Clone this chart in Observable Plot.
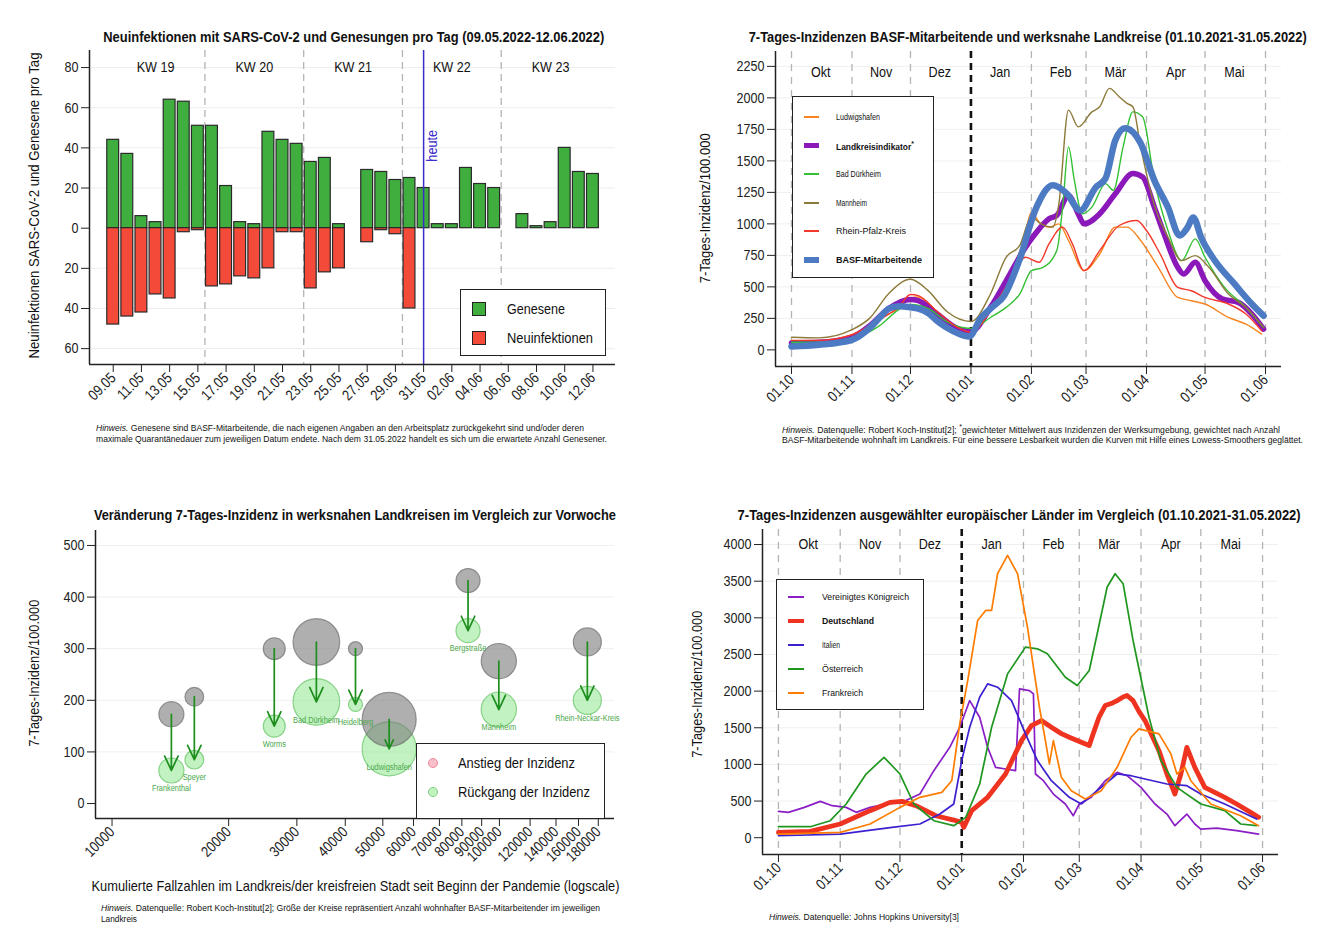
<!DOCTYPE html>
<html><head><meta charset="utf-8">
<script src="https://cdn.jsdelivr.net/npm/d3@7"></script>
<script src="https://cdn.jsdelivr.net/npm/@observablehq/plot@0.6"></script>
<style>
html,body{margin:0;padding:0;background:#fff;}
#root{position:relative;width:1330px;height:934px;overflow:hidden;background:#fff;}
#root svg{position:absolute;overflow:visible;}
.t{position:absolute;white-space:nowrap;line-height:1;color:#111;}
.box{position:absolute;border:1.5px solid #222;background:#fff;box-sizing:border-box;}
.sw{position:absolute;}
</style></head><body><div id="root"></div>
<script>
const FONT = '"Liberation Sans Narrow","Arial Narrow","Liberation Sans",Arial,sans-serif';
const root = document.getElementById("root");

// ================= DATA =================
// Panel 1: Neuinfektionen / Genesene pro Tag
const days = ["09.05","10.05","11.05","12.05","13.05","14.05","15.05","16.05","17.05","18.05","19.05","20.05","21.05","22.05","23.05","24.05","25.05","26.05","27.05","28.05","29.05","30.05","31.05","01.06","02.06","03.06","04.06","05.06","06.06","07.06","08.06","09.06","10.06","11.06","12.06"];
const genesene = [44,37,6,3,64,63,51,51,21,3,2,48,44,42,33,35,2,0,29,28,24,25,20,2,2,30,22,20,null,7,1,3,40,28,27];
const neuinfektionen = [48,44,42,33,35,2,1,29,28,24,25,20,2,2,30,22,20,null,7,1,3,40,null,null,null,null,null,null,null,null,null,null,null,null,null];
const weekLabels = ["KW 19","KW 20","KW 21","KW 22","KW 23"];
const todayDay = "31.05";
const p1YTicks = [-60,-40,-20,0,20,40,60,80];

// Panel 2: 7-Tages-Inzidenzen BASF / Landkreise
const monthStarts = ["2021-10-01","2021-11-01","2021-12-01","2022-01-01","2022-02-01","2022-03-01","2022-04-01","2022-05-01","2022-06-01"];
const monthNames = ["Okt","Nov","Dez","Jan","Feb","Mär","Apr","Mai"];
const yearStart = "2022-01-01";
const ludwigshafen = [["2021-10-01",70],["2021-10-15",70],["2021-11-01",120],["2021-11-15",250],["2021-11-25",330],["2021-12-01",410],["2021-12-05",420],["2021-12-15",300],["2021-12-25",180],["2022-01-01",140],["2022-01-11",310],["2022-01-19",549],["2022-01-28",868],["2022-02-01",1093],["2022-02-05",1013],["2022-02-10",974],["2022-02-15",1000],["2022-02-20",868],["2022-02-28",629],["2022-03-08",761],["2022-03-16",974],["2022-03-22",974],["2022-03-29",868],["2022-04-07",655],["2022-04-17",416],["2022-04-24",390],["2022-05-01",364],["2022-05-13",257],["2022-05-22",204],["2022-05-30",125]];
const landkreisindikator = [["2021-10-01",55],["2021-10-15",60],["2021-11-01",100],["2021-11-10",190],["2021-11-20",330],["2021-12-01",400],["2021-12-05",390],["2021-12-15",280],["2021-12-25",170],["2022-01-01",145],["2022-01-11",337],["2022-01-21",602],["2022-01-29",815],["2022-02-03",921],["2022-02-10",1040],["2022-02-14",1067],["2022-02-20",1226],["2022-02-25",1080],["2022-02-28",1000],["2022-03-08",1080],["2022-03-16",1239],["2022-03-25",1399],["2022-03-30",1372],["2022-04-05",1133],["2022-04-10",921],["2022-04-17",655],["2022-04-20",602],["2022-04-26",695],["2022-05-01",549],["2022-05-10",403],["2022-05-18",377],["2022-05-25",284],["2022-05-31",165]];
const badDuerkheim = [["2021-10-01",60],["2021-10-15",60],["2021-11-01",90],["2021-11-15",190],["2021-11-25",320],["2021-12-01",360],["2021-12-10",330],["2021-12-20",220],["2022-01-01",170],["2022-01-11",257],["2022-01-19",337],["2022-01-26",443],["2022-02-01",629],["2022-02-07",655],["2022-02-14",788],["2022-02-17",1131],["2022-02-20",1611],["2022-02-23",1345],["2022-02-27",1080],["2022-03-04",1133],["2022-03-11",1319],["2022-03-15",1266],["2022-03-20",1611],["2022-03-25",1889],["2022-03-30",1850],["2022-04-05",1345],["2022-04-12",947],["2022-04-19",708],["2022-04-26",881],["2022-05-01",735],["2022-05-11",496],["2022-05-22",337],["2022-05-31",178]];
const mannheim = [["2021-10-01",100],["2021-10-15",95],["2021-11-01",160],["2021-11-10",250],["2021-11-20",450],["2021-12-01",560],["2021-12-10",470],["2021-12-20",300],["2022-01-01",225],["2022-01-11",443],["2022-01-19",735],["2022-01-26",829],["2022-02-01",1050],["2022-02-06",1000],["2022-02-12",974],["2022-02-15",1150],["2022-02-20",1903],["2022-02-25",1770],["2022-03-04",1889],["2022-03-08",1929],["2022-03-13",2075],["2022-03-18",2009],["2022-03-22",1956],["2022-03-25",1929],["2022-03-29",1611],["2022-04-05",1150],["2022-04-12",894],["2022-04-19",708],["2022-04-26",748],["2022-05-03",655],["2022-05-13",443],["2022-05-22",337],["2022-05-31",178]];
const rheinPfalzKreis = [["2021-10-01",75],["2021-10-15",75],["2021-11-01",120],["2021-11-15",240],["2021-11-25",340],["2021-12-01",440],["2021-12-05",430],["2021-12-15",300],["2021-12-25",180],["2022-01-01",140],["2022-01-11",310],["2022-01-21",549],["2022-01-29",735],["2022-02-05",695],["2022-02-10",841],["2022-02-17",974],["2022-02-22",841],["2022-02-28",629],["2022-03-08",788],["2022-03-18",987],["2022-03-27",1027],["2022-04-01",947],["2022-04-08",761],["2022-04-17",496],["2022-04-24",469],["2022-05-01",416],["2022-05-13",364],["2022-05-22",284],["2022-05-30",151]];
const basfMitarbeitende = [["2021-10-01",27],["2021-10-15",40],["2021-11-01",80],["2021-11-10",173],["2021-11-15",253],["2021-11-20",327],["2021-11-25",346],["2021-12-01",338],["2021-12-05",327],["2021-12-10",293],["2021-12-15",226],["2021-12-20",173],["2021-12-25",133],["2021-12-31",106],["2022-01-06",250],["2022-01-12",340],["2022-01-18",430],["2022-01-26",720],["2022-02-03",1110],["2022-02-12",1306],["2022-02-19",1242],["2022-02-26",1107],["2022-03-06",1290],["2022-03-11",1361],["2022-03-16",1664],["2022-03-21",1759],["2022-03-29",1640],["2022-04-05",1345],["2022-04-12",1131],["2022-04-18",908],["2022-04-22",971],["2022-04-25",1051],["2022-04-29",892],["2022-05-06",709],["2022-05-16",525],["2022-05-25",364],["2022-05-31",271]];

// Panel 3: Veränderung 7-Tages-Inzidenz
const districts = ["Frankenthal","Speyer","Worms","Bad Dürkheim","Heidelberg","Ludwigshafen","Bergstraße","Mannheim","Rhein-Neckar-Kreis"];
const cumulativeCases = [14230,16310,26230,33690,42510,51930,82990,99650,168650];
const incidencePrevWeek = [173,207,300,313,300,163,432,276,313];
const incidenceNow = [64,85,150,197,192,106,335,182,200];
const employees = [4300,2400,3300,14900,1350,20000,3950,8500,5400];
const p3XTicks = [10000,20000,30000,40000,50000,60000,70000,80000,90000,100000,120000,140000,160000,180000];

// Panel 4: europäische Länder
const vereinigtesKoenigreich = [["2021-10-01",360],["2021-10-06",346],["2021-10-14",414],["2021-10-22",496],["2021-10-28",437],["2021-11-04",414],["2021-11-09",346],["2021-11-16",414],["2021-11-24",460],["2021-12-02",482],["2021-12-11",596],["2021-12-18",915],["2021-12-26",1233],["2021-12-31",1507],["2022-01-05",1871],["2022-01-10",1643],["2022-01-14",1233],["2022-01-18",960],["2022-01-23",937],["2022-01-28",915],["2022-01-30",2030],["2022-02-04",2007],["2022-02-06",1962],["2022-02-07",869],["2022-02-11",778],["2022-02-16",596],["2022-02-22",460],["2022-02-26",300],["2022-03-01",460],["2022-03-07",551],["2022-03-14",778],["2022-03-20",892],["2022-03-25",846],["2022-04-01",687],["2022-04-08",460],["2022-04-14",323],["2022-04-18",164],["2022-04-24",323],["2022-04-28",187],["2022-05-01",118],["2022-05-09",132],["2022-05-19",96],["2022-05-30",50]];
const deutschland = [["2021-10-01",73],["2021-10-17",87],["2021-11-01",187],["2021-11-16",369],["2021-11-26",482],["2021-12-02",496],["2021-12-09",437],["2021-12-19",300],["2021-12-28",241],["2022-01-01",209],["2022-01-02",141],["2022-01-06",369],["2022-01-14",551],["2022-01-23",869],["2022-01-31",1325],["2022-02-05",1530],["2022-02-10",1598],["2022-02-15",1507],["2022-02-20",1420],["2022-02-24",1371],["2022-03-02",1302],["2022-03-06",1257],["2022-03-08",1420],["2022-03-11",1650],["2022-03-14",1803],["2022-03-17",1830],["2022-03-20",1871],["2022-03-23",1920],["2022-03-25",1940],["2022-03-28",1870],["2022-03-31",1720],["2022-04-03",1598],["2022-04-10",1188],["2022-04-14",869],["2022-04-18",596],["2022-04-21",869],["2022-04-24",1233],["2022-04-28",960],["2022-05-03",687],["2022-05-13",551],["2022-05-19",460],["2022-05-26",346],["2022-05-30",278]];
const italien = [["2021-10-01",27],["2021-11-01",50],["2021-11-27",141],["2021-12-11",187],["2021-12-21",323],["2021-12-28",460],["2022-01-01",1052],["2022-01-05",1507],["2022-01-10",1917],["2022-01-14",2099],["2022-01-19",2053],["2022-01-26",1871],["2022-02-02",1416],["2022-02-08",1052],["2022-02-15",778],["2022-02-24",551],["2022-03-02",460],["2022-03-10",642],["2022-03-20",869],["2022-03-27",846],["2022-04-03",801],["2022-04-14",733],["2022-04-24",710],["2022-05-01",596],["2022-05-13",460],["2022-05-29",255]];
const oesterreich = [["2021-10-01",150],["2021-10-17",150],["2021-10-27",232],["2021-11-04",460],["2021-11-14",869],["2021-11-23",1097],["2021-12-01",869],["2021-12-08",460],["2021-12-18",232],["2021-12-28",164],["2022-01-03",278],["2022-01-10",733],["2022-01-16",1507],["2022-01-24",2235],["2022-02-02",2600],["2022-02-08",2577],["2022-02-13",2509],["2022-02-22",2190],["2022-02-28",2076],["2022-03-06",2281],["2022-03-10",2782],["2022-03-15",3420],["2022-03-19",3602],["2022-03-23",3466],["2022-03-28",2691],["2022-04-05",1644],["2022-04-11",1052],["2022-04-19",687],["2022-05-01",460],["2022-05-13",369],["2022-05-21",187],["2022-05-29",164]];
const frankreich = [["2021-10-01",50],["2021-11-01",73],["2021-11-16",187],["2021-12-01",414],["2021-12-11",551],["2021-12-22",619],["2021-12-27",778],["2021-12-31",1553],["2022-01-04",2144],["2022-01-09",2964],["2022-01-13",3101],["2022-01-16",3101],["2022-01-19",3602],["2022-01-24",3853],["2022-01-29",3602],["2022-02-03",2873],["2022-02-07",2144],["2022-02-09",1780],["2022-02-12",1325],["2022-02-14",1006],["2022-02-16",1325],["2022-02-20",824],["2022-02-25",642],["2022-03-04",528],["2022-03-12",642],["2022-03-20",960],["2022-03-27",1371],["2022-03-31",1484],["2022-04-10",1416],["2022-04-16",1143],["2022-04-19",869],["2022-04-23",960],["2022-04-26",778],["2022-05-06",460],["2022-05-21",300],["2022-05-30",164]];

// ================= HELPERS =================
const parse = s => new Date(s + "T00:00:00Z");
const fmtDM = d3.utcFormat("%d.%m");
// horizontally condense SVG texts about their own anchor (keeps positions)
function narrow(svg, s) {
  svg.querySelectorAll("text").forEach(t => {
    const xa = t.getAttribute("x");
    const xs = xa != null && /^\s*-?[\d.]+\s*$/.test(xa) ? +xa : 0;
    const tr = t.getAttribute("transform") || "";
    t.setAttribute("transform", `${tr} translate(${xs},0) scale(${s},1) translate(${-xs},0)`.trim());
  });
}
function place(svg, left, top) { narrow(svg, 0.84); svg.style.left = left + "px"; svg.style.top = top + "px"; root.appendChild(svg); }
function txt(html, o) {
  const el = document.createElement("div");
  el.className = "t";
  el.innerHTML = html;
  el.style.fontSize = (o.size || 9) + "px";
  el.style.fontFamily = FONT;
  if (o.bold) el.style.fontWeight = "bold";
  el.style.color = o.color || "#111";
  root.appendChild(el);
  const r = el.getBoundingClientRect();
  const w = r.width, h = r.height;
  const s = o.width ? o.width / w : 1;
  const left = o.x != null ? o.x : o.cx - w / 2;
  el.style.left = left + "px";
  el.style.top = (o.cy - h / 2) + "px";
  el.style.transformOrigin = o.x != null ? "0 50%" : "50% 50%";
  el.style.transform = (o.rotate ? `rotate(${o.rotate}deg) ` : "") + `scaleX(${s})`;
  return el;
}
function box(x, y, w, h) {
  const b = document.createElement("div");
  b.className = "box";
  Object.assign(b.style, {left: x + "px", top: y + "px", width: w + "px", height: h + "px"});
  root.appendChild(b);
}
function swatch(x, y, w, h, css) {
  const s = document.createElement("div");
  s.className = "sw";
  Object.assign(s.style, {left: x + "px", top: y + "px", width: w + "px", height: h + "px"}, css);
  root.appendChild(s);
}
const baseStyle = {fontFamily: FONT, fontSize: "14px", color: "#222", background: "transparent", overflow: "visible"};

// ================= PANEL 1 =================
{
  const data = days.map((d, i) => ({i, d, g: genesene[i], n: neuinfektionen[i]}));
  const weeks = weekLabels.map((w, k) => ({w, i: 7 * k + 3}));
  const seps = weekLabels.slice(1).map((w, k) => 7 * (k + 1) - 0.5);
  const today = days.indexOf(todayDay);
  const xd = [-1.68, 35.6], yd = [-67.9, 88.5];
  const svg = Plot.plot({
    width: 650, height: 430, marginLeft: 89, marginRight: 35, marginTop: 50, marginBottom: 66,
    x: {type: "linear", domain: xd},
    y: {domain: yd},
    style: baseStyle,
    marks: [
      Plot.ruleY([-60, -40, -20, 20, 40, 60, 80], {stroke: "#ededed"}),
      Plot.ruleX(seps, {stroke: "#b4b4b4", strokeDasharray: "7,5", strokeWidth: 1.3}),
      Plot.rectY(data.filter(d => d.g != null), {x1: d => d.i - 0.42, x2: d => d.i + 0.42, y1: 0, y2: "g", fill: "#3fae3f", stroke: "#2a2a2a", strokeWidth: 1.2}),
      Plot.rectY(data.filter(d => d.n != null), {x1: d => d.i - 0.42, x2: d => d.i + 0.42, y1: 0, y2: d => -d.n, fill: "#f44a3a", stroke: "#2a2a2a", strokeWidth: 1.2}),
      Plot.ruleX([today], {stroke: "#3a2dc8", strokeWidth: 1.5}),
      Plot.text([{i: today, t: "heute"}], {x: "i", y: () => 41, text: "t", rotate: -90, dx: 9, fill: "#3a2dc8", fontSize: 15}),
      Plot.text(weeks, {x: "i", y: () => 80, text: "w", fontSize: 15, fill: "#111"}),
      Plot.ruleY([yd[0]], {stroke: "#222", strokeWidth: 1.5}),
      Plot.ruleX([xd[0]], {stroke: "#222", strokeWidth: 1.5}),
      Plot.axisY({ticks: p1YTicks, tickFormat: d => Math.abs(d), tickSize: 8, tickPadding: 3, label: null, fontSize: 15}),
      Plot.axisX({ticks: d3.range(0, days.length, 2), tickFormat: i => days[i], tickRotate: -45, tickSize: 8, tickPadding: 3, label: null, fontSize: 15})
    ]
  });
  place(svg, 0, 0);
  txt("Neuinfektionen mit SARS-CoV-2 und Genesungen pro Tag (09.05.2022-12.06.2022)", {cx: 354, cy: 37, size: 14, bold: true, width: 501});
  txt("Neuinfektionen SARS-CoV-2 und Genesene pro Tag", {cx: 33, cy: 205, size: 15, rotate: -90, width: 306});
  box(460, 289, 146, 67);
  swatch(472, 302, 14, 14, {background: "#3fae3f", border: "1px solid #222", boxSizing: "border-box"});
  swatch(472, 331, 14, 14, {background: "#f44a3a", border: "1px solid #222", boxSizing: "border-box"});
  txt("Genesene", {x: 507, cy: 309, size: 14.5, width: 58});
  txt("Neuinfektionen", {x: 507, cy: 338, size: 14.5, width: 86});
  txt("<i>Hinweis.</i> Genesene sind BASF-Mitarbeitende, die nach eigenen Angaben an den Arbeitsplatz zurückgekehrt sind und/oder deren", {x: 96, cy: 428, size: 8.5, width: 488});
  txt("maximale Quarantänedauer zum jeweiligen Datum endete. Nach dem 31.05.2022 handelt es sich um die erwartete Anzahl Genesener.", {x: 96, cy: 439.5, size: 8.5, width: 511});
}

// ================= PANEL 2 =================
{
  const series = [
    {name: "Ludwigshafen", data: ludwigshafen, color: "#f7841f", w: 1.4},
    {name: "Landkreisindikator<sup>*</sup>", data: landkreisindikator, color: "#8b18b8", w: 5.5, bold: true},
    {name: "Bad Dürkheim", data: badDuerkheim, color: "#33c033", w: 1.4},
    {name: "Mannheim", data: mannheim, color: "#8c7a3a", w: 1.4},
    {name: "Rhein-Pfalz-Kreis", data: rheinPfalzKreis, color: "#f2382a", w: 1.4},
    {name: "BASF-Mitarbeitende", data: basfMitarbeitende, color: "#4c7bc4", w: 6.5, bold: true}
  ];
  const ms = monthStarts.map(parse);
  const yS = parse(yearStart);
  const xd = [new Date(+ms[0] - 8.2 * 864e5), new Date(+ms[ms.length - 1] + 8.2 * 864e5)];
  const yd = [-132, 2368];
  const svg = Plot.plot({
    width: 670, height: 430, marginLeft: 115, marginRight: 49, marginTop: 51, marginBottom: 64,
    x: {type: "utc", domain: xd},
    y: {domain: yd},
    style: baseStyle,
    marks: [
      Plot.ruleY(d3.range(250, 2251, 250), {stroke: "#efefef"}),
      Plot.ruleX(ms.filter(d => +d !== +yS), {stroke: "#b4b4b4", strokeDasharray: "7,6", strokeWidth: 1.3}),
      Plot.ruleX([yS], {stroke: "#111", strokeDasharray: "7,5", strokeWidth: 2.6}),
      ...series.map(s => Plot.line(s.data, {x: d => parse(d[0]), y: d => d[1], stroke: s.color, strokeWidth: s.w, curve: "monotone-x", strokeLinejoin: "round"})),
      Plot.text(monthNames, {x: (d, k) => d3.utcDay.offset(ms[k], 15), y: () => 2202, text: d => d, fontSize: 15, fill: "#111"}),
      Plot.ruleY([yd[0]], {stroke: "#222", strokeWidth: 1.5}),
      Plot.ruleX([xd[0]], {stroke: "#222", strokeWidth: 1.5}),
      Plot.axisY({ticks: d3.range(0, 2251, 250), tickFormat: d => String(d), tickSize: 8, tickPadding: 3, label: null, fontSize: 15}),
      Plot.axisX({ticks: ms, tickFormat: fmtDM, tickRotate: -45, tickSize: 8, tickPadding: 3, label: null, fontSize: 15})
    ]
  });
  place(svg, 660, 0);
  txt("7-Tages-Inzidenzen BASF-Mitarbeitende und werksnahe Landkreise (01.10.2021-31.05.2022)", {cx: 1027.5, cy: 37, size: 14, bold: true, width: 558});
  txt("7-Tages-Inzidenz/100.000", {cx: 705, cy: 208, size: 14.5, rotate: -90, width: 150});
  box(792, 96, 142, 182);
  const cys = [117, 145.5, 174, 203, 231, 260];
  const tw = [44, 78, 45, 31, 70, 86];
  series.forEach((s, k) => {
    swatch(804, cys[k] - s.w / 2, 15, s.w, {background: s.color});
    txt(s.name, {x: 836, cy: cys[k], size: 9, bold: s.bold, width: tw[k]});
  });
  txt("<i>Hinweis.</i> Datenquelle: Robert Koch-Institut[2]; <sup>*</sup>gewichteter Mittelwert aus Inzidenzen der Werksumgebung, gewichtet nach Anzahl", {x: 782, cy: 429, size: 8.5, width: 498});
  txt("BASF-Mitarbeitende wohnhaft im Landkreis. Für eine bessere Lesbarkeit wurden die Kurven mit Hilfe eines Lowess-Smoothers geglättet.", {x: 782, cy: 440.5, size: 8.5, width: 521});
}

// ================= PANEL 3 =================
{
  const data = districts.map((name, k) => ({name, cases: cumulativeCases[k], prev: incidencePrevWeek[k], now: incidenceNow[k], emp: employees[k]}));
  const xd = [9064, 198200], yd = [-29, 529];
  const svg = Plot.plot({
    width: 650, height: 420, marginLeft: 95, marginRight: 36, marginTop: 50, marginBottom: 82,
    x: {type: "log", domain: xd},
    y: {domain: yd},
    r: {type: "sqrt", domain: [0, 20000], range: [0, 27]},
    style: baseStyle,
    marks: [
      Plot.ruleY([100, 200, 300, 400, 500], {stroke: "#efefef"}),
      Plot.dot(data, {x: "cases", y: "now", r: "emp", fill: "#8fe88f", fillOpacity: 0.55, stroke: "#86d286", strokeWidth: 1.2}),
      Plot.dot(data, {x: "cases", y: "prev", r: "emp", fill: "#7a7a7a", fillOpacity: 0.6, stroke: "#6e6e6e", strokeOpacity: 0.7, strokeWidth: 1.2}),
      Plot.arrow(data, {x1: "cases", y1: "prev", x2: "cases", y2: "now", stroke: "#1e8e1e", strokeWidth: 1.7, headLength: 14, headAngle: 50}),
      Plot.text(data, {x: "cases", y: "now", text: "name", dy: 18, fill: "#4aa84a", fontSize: 8.8}),
      Plot.ruleY([yd[0]], {stroke: "#222", strokeWidth: 1.5}),
      Plot.ruleX([xd[0]], {stroke: "#222", strokeWidth: 1.5}),
      Plot.axisY({ticks: [0, 100, 200, 300, 400, 500], tickFormat: d => String(d), tickSize: 8, tickPadding: 3, label: null, fontSize: 15}),
      Plot.axisX({ticks: p3XTicks, tickFormat: d => String(d), tickRotate: -45, tickSize: 8, tickPadding: 3, label: null, fontSize: 15})
    ]
  });
  place(svg, 0, 480);
  txt("Veränderung 7-Tages-Inzidenz in werksnahen Landkreisen im Vergleich zur Vorwoche", {cx: 355, cy: 515, size: 14, bold: true, width: 522});
  txt("7-Tages-Inzidenz/100.000", {cx: 34, cy: 673, size: 14.5, rotate: -90, width: 147});
  txt("Kumulierte Fallzahlen im Landkreis/der kreisfreien Stadt seit Beginn der Pandemie (logscale)", {cx: 355, cy: 885, size: 15, width: 528});
  box(416, 743, 189, 76);
  swatch(428, 758, 10, 10, {background: "rgba(245,150,170,0.6)", border: "1.2px solid #f08898", borderRadius: "50%", boxSizing: "border-box"});
  swatch(428, 787, 10, 10, {background: "rgba(150,235,150,0.6)", border: "1.2px solid #80d080", borderRadius: "50%", boxSizing: "border-box"});
  txt("Anstieg der Inzidenz", {x: 458, cy: 763, size: 14.5, width: 117});
  txt("Rückgang der Inzidenz", {x: 458, cy: 792, size: 14.5, width: 132});
  txt("<i>Hinweis.</i> Datenquelle: Robert Koch-Institut[2]; Größe der Kreise repräsentiert Anzahl wohnhafter BASF-Mitarbeitender im jeweiligen", {x: 101, cy: 908, size: 8.5, width: 499});
  txt("Landkreis", {x: 101, cy: 919, size: 8.5, width: 36});
}

// ================= PANEL 4 =================
{
  const series = [
    {name: "Vereinigtes Königreich", data: vereinigtesKoenigreich, color: "#8a1fc6", w: 1.7},
    {name: "Deutschland", data: deutschland, color: "#ee3320", w: 4.8, bold: true},
    {name: "Italien", data: italien, color: "#3c20cf", w: 1.7},
    {name: "Österreich", data: oesterreich, color: "#1f961f", w: 1.7},
    {name: "Frankreich", data: frankreich, color: "#ff7c00", w: 1.7}
  ];
  const ms = monthStarts.map(parse);
  const yS = parse(yearStart);
  const xd = [new Date(+ms[0] - 8 * 864e5), new Date(+ms[ms.length - 1] + 8 * 864e5)];
  const yd = [-229, 4205];
  const svg = Plot.plot({
    width: 670, height: 420, marginLeft: 102, marginRight: 52, marginTop: 49, marginBottom: 46,
    x: {type: "utc", domain: xd},
    y: {domain: yd},
    style: baseStyle,
    marks: [
      Plot.ruleY(d3.range(500, 4001, 500), {stroke: "#efefef"}),
      Plot.ruleX(ms.filter(d => +d !== +yS), {stroke: "#b4b4b4", strokeDasharray: "7,6", strokeWidth: 1.3}),
      Plot.ruleX([yS], {stroke: "#111", strokeDasharray: "7,5", strokeWidth: 2.6}),
      ...series.map(s => Plot.line(s.data, {x: d => parse(d[0]), y: d => d[1], stroke: s.color, strokeWidth: s.w, strokeLinejoin: "round"})),
      Plot.text(monthNames, {x: (d, k) => d3.utcDay.offset(ms[k], 15), y: () => 4000, text: d => d, fontSize: 15, fill: "#111"}),
      Plot.ruleY([yd[0]], {stroke: "#222", strokeWidth: 1.5}),
      Plot.ruleX([xd[0]], {stroke: "#222", strokeWidth: 1.5}),
      Plot.axisY({ticks: d3.range(0, 4001, 500), tickFormat: d => String(d), tickSize: 8, tickPadding: 3, label: null, fontSize: 15}),
      Plot.axisX({ticks: ms, tickFormat: fmtDM, tickRotate: -45, tickSize: 8, tickPadding: 3, label: null, fontSize: 15})
    ]
  });
  place(svg, 660, 480);
  txt("7-Tages-Inzidenzen ausgewählter europäischer Länder im Vergleich (01.10.2021-31.05.2022)", {cx: 1019, cy: 515, size: 14, bold: true, width: 563});
  txt("7-Tages-Inzidenz/100.000", {cx: 697, cy: 684, size: 14.5, rotate: -90, width: 147});
  box(776, 579, 148, 131);
  const cys = [597, 621, 645, 669, 693];
  const tw = [87, 52, 18, 41, 41];
  series.forEach((s, k) => {
    swatch(788, cys[k] - s.w / 2, 16, s.w, {background: s.color});
    txt(s.name, {x: 822, cy: cys[k], size: 9, bold: s.bold, width: tw[k]});
  });
  txt("<i>Hinweis.</i> Datenquelle: Johns Hopkins University[3]", {x: 769, cy: 917, size: 8.5, width: 190});
}
</script></body></html>
